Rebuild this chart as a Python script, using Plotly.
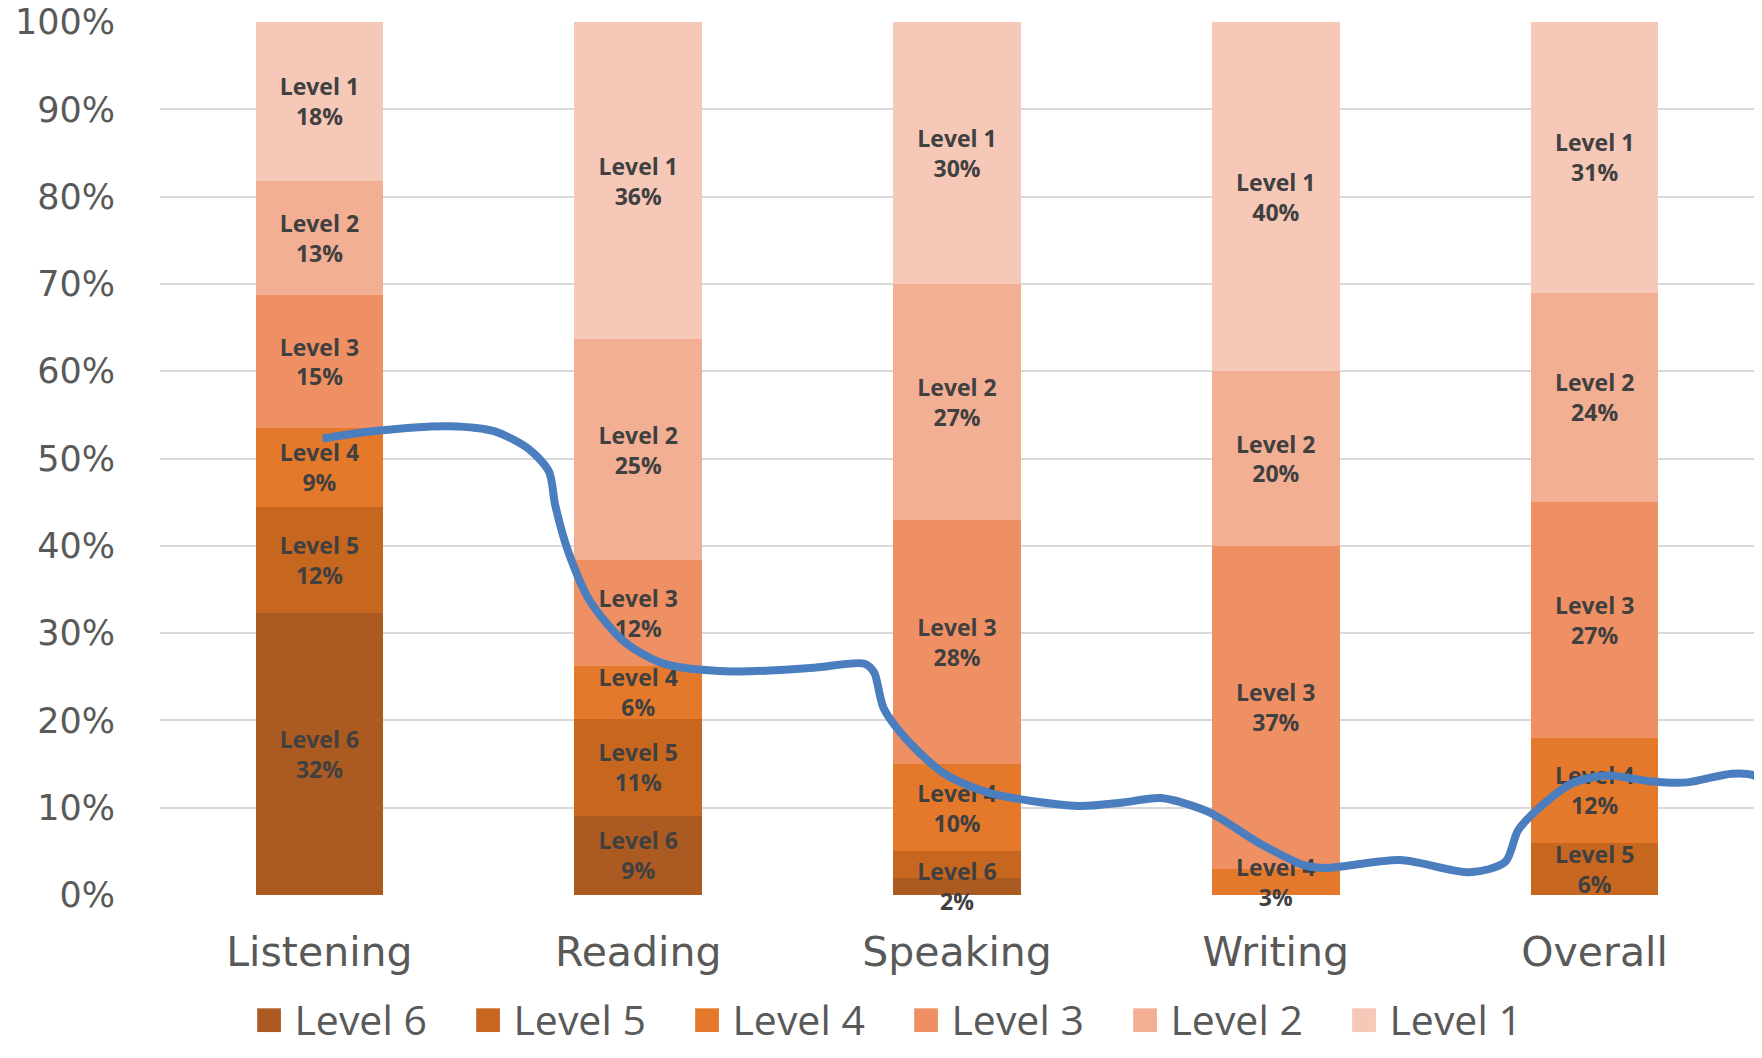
import plotly.graph_objects as go

# --- data ---
skills = ["Listening", "Reading", "Speaking", "Writing", "Overall"]
level_names = ["Level 6", "Level 5", "Level 4", "Level 3", "Level 2", "Level 1"]

level6 = [32, 9, 2, 0, 0]
level5 = [12, 11, 3, 0, 6]
level4 = [9, 6, 10, 3, 12]
level3 = [15, 12, 28, 37, 27]
level2 = [13, 25, 27, 20, 24]
level1 = [18, 36, 30, 40, 31]

# segments whose label is not printed in the original
hidden_labels = {("Level 5", "Speaking")}

y_ticks = [0, 10, 20, 30, 40, 50, 60, 70, 80, 90, 100]
y_tick_labels = [f"{t}%" for t in y_ticks]

# hand-drawn blue curve (x in category units, y in %)
curve_x = [0.01, 0.16, 0.41, 0.55, 0.66, 0.72, 0.74, 0.78, 0.85, 0.96, 1.08, 1.29, 1.54,
           1.71, 1.74, 1.77, 1.85, 1.96, 2.10, 2.38, 2.52, 2.64, 2.79, 2.95, 3.09, 3.16,
           3.39, 3.61, 3.72, 3.76, 3.83, 3.93, 4.04, 4.18, 4.29, 4.43, 4.50, 4.53]
curve_y = [52.3, 53.1, 53.7, 53.1, 51.0, 48.5, 44.6, 39.4, 33.6, 28.9, 26.5, 25.6, 26.0,
           26.5, 25.5, 21.4, 17.5, 13.9, 11.7, 10.2, 10.6, 11.1, 9.5, 5.9, 3.4, 3.1,
           4.0, 2.6, 3.8, 7.4, 10.1, 12.8, 13.7, 13.0, 12.9, 13.9, 13.7, 12.6]

colors = ["#AB5A21", "#C6661F", "#E5792B", "#EE9063", "#F2AF94", "#F5C8B8"]
series = [level6, level5, level4, level3, level2, level1]

FONT = "Open Sans"
AXIS_FONT = "DejaVu Sans"
TEXT_GREY = "#595959"

fig = go.Figure()

# --- coloured bars (no text) ---
for name, vals, col in zip(level_names, series, colors):
    fig.add_trace(go.Bar(
        x=skills, y=vals, name=name,
        marker_color=col, marker_line_width=0,
        showlegend=False, hoverinfo="skip",
    ))

# --- transparent copy on an overlay axis carrying the labels, so text sits on top ---
for name, vals in zip(level_names, series):
    labels = []
    for skill, v in zip(skills, vals):
        if v == 0 or (name, skill) in hidden_labels:
            labels.append("")
        else:
            labels.append(f"<b>{name}<br>{v}%</b>")
    fig.add_trace(go.Bar(
        x=skills, y=vals, name=name,
        xaxis="x2", yaxis="y2",
        marker_color="rgba(0,0,0,0)", marker_line_width=0,
        text=labels,
        textposition="inside",
        insidetextanchor="middle",
        textangle=0,
        textfont=dict(family=FONT, size=23, color="#404040"),
        cliponaxis=False,
        showlegend=False,
    ))

# --- legend entries: big square glyph in the entry text ---
for name, col in zip(level_names, colors):
    fig.add_trace(go.Scatter(
        x=[None], y=[None], mode="none",
        name=f'<span style="color:{col};font-size:49px">■</span> {name}',
        showlegend=True,
    ))

# --- hand-drawn curve ---
fig.add_trace(go.Scatter(
    x=curve_x, y=curve_y,
    xaxis="x3", yaxis="y3",
    mode="lines",
    line=dict(color="#4A7EBE", width=8, shape="spline", smoothing=0.8),
    showlegend=False,
    cliponaxis=False,
    hoverinfo="skip",
))

y_range = [0, 100.001]

fig.update_layout(
    width=1762,
    height=1058,
    barmode="stack",
    barnorm="percent",
    bargap=0.6,
    plot_bgcolor="white",
    paper_bgcolor="white",
    font=dict(family=FONT, color=TEXT_GREY),
    margin=dict(l=152, r=16, t=14, b=171, autoexpand=False),
    uniformtext=dict(minsize=23, mode="show"),
    xaxis=dict(
        range=[-0.5, 4.5],
        showgrid=False, showline=False, ticks="",
        tickfont=dict(family=AXIS_FONT, size=41, color=TEXT_GREY),
        ticklabelstandoff=29,
        automargin=False,
    ),
    xaxis2=dict(range=[-0.5, 4.5], overlaying="x", visible=False),
    xaxis3=dict(range=[-0.5, 4.5], overlaying="x", visible=False),
    yaxis=dict(
        range=y_range,
        tickmode="array",
        tickvals=y_ticks,
        ticktext=y_tick_labels,
        showgrid=True,
        gridcolor="#D9D9D9",
        gridwidth=2,
        zeroline=False,
        showline=False,
        tickfont=dict(family=AXIS_FONT, size=35, color=TEXT_GREY),
        ticklabelstandoff=44,
        ticklabeloverflow="allow",
        automargin=False,
    ),
    yaxis2=dict(range=y_range, overlaying="y", visible=False),
    yaxis3=dict(range=y_range, overlaying="y", visible=False),
    legend=dict(
        orientation="h",
        x=0.034,
        xanchor="left",
        y=-0.142,
        yanchor="middle",
        traceorder="normal",
        font=dict(family=FONT, size=41, color=TEXT_GREY),
        entrywidth=174,
    ),
)

fig.write_html("out.html")
